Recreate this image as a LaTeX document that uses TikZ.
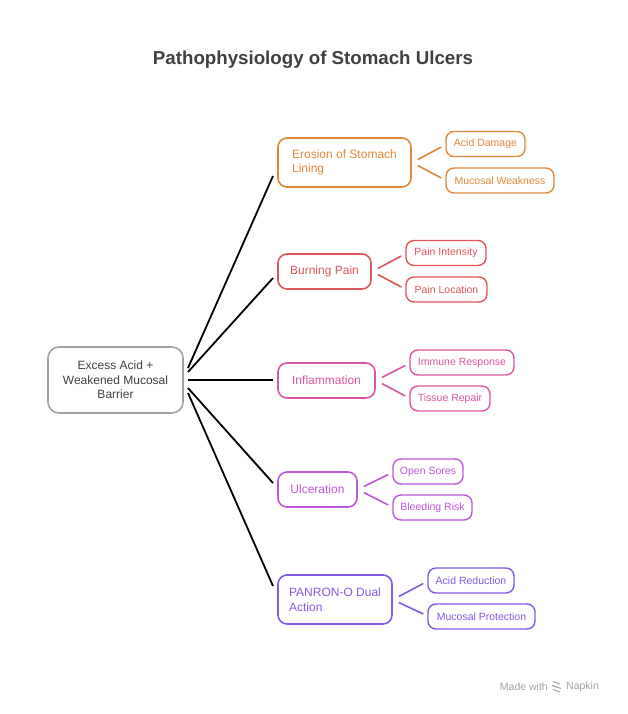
\documentclass[tikz,border=0pt]{standalone}
\usepackage{fontspec}
\setmainfont{Liberation Sans}
\usetikzlibrary{calc}
\begin{document}
\begin{tikzpicture}[x=1pt,y=-1pt,
  base/.style={draw, line width=1.6pt, rounded corners=9pt, inner sep=0pt, font=\fontsize{12}{14.5}\selectfont},
  mainbox/.style={base, minimum height=35pt},
  leaf/.style={draw, line width=1.4pt, rounded corners=8pt, inner sep=0pt, minimum height=25pt, font=\fontsize{10.5}{12}\selectfont},
  conn/.style={line width=1.8pt, black},
  sub/.style={line width=1.6pt}
]
\definecolor{corange}{HTML}{E0883A}
\definecolor{cred}{HTML}{E05558}
\definecolor{cpink}{HTML}{DA55A4}
\definecolor{cpurp}{HTML}{BC58DC}
\definecolor{cviol}{HTML}{8459E6}
\definecolor{cgray}{HTML}{A3A3A3}
\definecolor{ctext}{HTML}{404040}
\useasboundingbox (0,0) rectangle (628,714);
\fill[white] (0,0) rectangle (628,714);

\node[font=\fontsize{18.7}{22}\selectfont\bfseries, text=ctext] (title) at (313,60) {Pathophysiology of Stomach Ulcers};

\node[base, draw=cgray, text=ctext, minimum width=135pt, minimum height=66pt, align=center, rounded corners=11pt] (root) at (115.5,380) {Excess Acid +\\Weakened Mucosal\\Barrier};

% main nodes
\node[base, draw=corange, text=corange, minimum width=133pt, minimum height=49pt, align=left] (ero) at (344.5,162.5) {Erosion of Stomach\\Lining};
\node[mainbox, draw=cred, text=cred, minimum width=93pt] (burn) at (324.5,271.5) {Burning Pain};
\node[mainbox, draw=cpink, text=cpink, minimum width=97pt] (infl) at (326.5,380.5) {Inflammation};
\node[mainbox, draw=cpurp, text=cpurp, minimum width=79pt] (ulc) at (317.5,489.5) {Ulceration};
\node[base, draw=cviol, text=cviol, minimum width=114pt, minimum height=49pt, align=left] (pan) at (335,599.5) {PANRON-O Dual\\Action};

% leaves
\node[leaf, draw=corange, text=corange, minimum width=79pt] (ad) at (485.5,144) {Acid Damage};
\node[leaf, draw=corange, text=corange, minimum width=108pt] (mw) at (500,180.5) {Mucosal Weakness};
\node[leaf, draw=cred, text=cred, minimum width=80pt] (pi) at (446,253) {Pain Intensity};
\node[leaf, draw=cred, text=cred, minimum width=81pt] (pl) at (446.5,289.5) {Pain Location};
\node[leaf, draw=cpink, text=cpink, minimum width=104pt] (ir) at (462,362.5) {Immune Response};
\node[leaf, draw=cpink, text=cpink, minimum width=80pt] (tr) at (450,398.5) {Tissue Repair};
\node[leaf, draw=cpurp, text=cpurp, minimum width=70pt] (os) at (428,471.5) {Open Sores};
\node[leaf, draw=cpurp, text=cpurp, minimum width=79pt] (br) at (432.5,507.5) {Bleeding Risk};
\node[leaf, draw=cviol, text=cviol, minimum width=86pt] (ar) at (471,580.5) {Acid Reduction};
\node[leaf, draw=cviol, text=cviol, minimum width=107pt] (mp) at (481.5,616.5) {Mucosal Protection};

% root connectors
\coordinate (r1) at (188,368);
\coordinate (r2) at (188,372);
\coordinate (r3) at (188,380);
\coordinate (r4) at (188,388);
\coordinate (r5) at (188,393);
\coordinate (e1) at (273,176);
\coordinate (e2) at (273,278);
\coordinate (e3) at (273,380);
\coordinate (e4) at (273,483);
\coordinate (e5) at (273,586);
\draw[conn] (r1) -- (e1);
\draw[conn] (r2) -- (e2);
\draw[conn] (r3) -- (e3);
\draw[conn] (r4) -- (e4);
\draw[conn] (r5) -- (e5);

% sub connectors
\foreach \p/\a/\b/\c in {ero/ad/mw/corange, burn/pi/pl/cred, infl/ir/tr/cpink, ulc/os/br/cpurp, pan/ar/mp/cviol}{
  \draw[sub, \c] ($(\p.east)+(6,-3)$) -- ($(\a.west)+(-4,3)$);
  \draw[sub, \c] ($(\p.east)+(6,3)$) -- ($(\b.west)+(-4,-2.5)$);
}

% footer
\node[font=\fontsize{10.5}{12}\selectfont, text=cgray, anchor=east, inner sep=0pt] (made) at (548,687) {Made with};
\node[font=\fontsize{10.5}{12}\selectfont, text=cgray, anchor=west, inner sep=0pt] (napkin) at (566,687) {Napkin};
\draw[cgray, line width=1pt] (553,681.5) -- (560,684) (552,685.5) -- (561,688.5) (553,689.5) -- (560,692);
\end{tikzpicture}
\end{document}
